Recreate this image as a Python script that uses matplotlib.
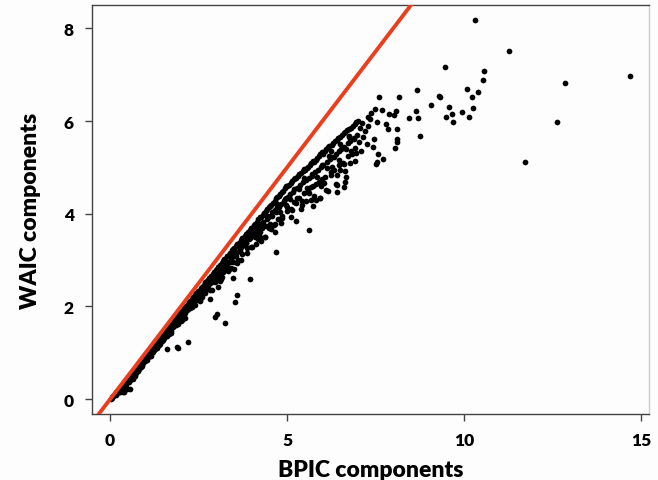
import matplotlib
matplotlib.use("Agg")
import matplotlib.pyplot as plt

# ---- data ----
band_pts = [
    (0.02,0.01),(0.05,0.04),(0.08,0.06),(0.10,0.09),(0.12,0.08),(0.14,0.12),(0.16,0.10),(0.18,0.16),(0.20,0.13),(0.22,0.20),(0.24,0.15),(0.06,0.02),
    (0.27,0.25),(0.29,0.18),(0.31,0.28),(0.33,0.22),(0.35,0.32),(0.37,0.15),(0.39,0.34),(0.41,0.27),(0.43,0.38),(0.45,0.30),(0.47,0.43),(0.49,0.36),
    (0.51,0.47),(0.53,0.38),(0.55,0.50),(0.57,0.42),(0.59,0.55),(0.61,0.46),(0.63,0.58),(0.65,0.52),(0.67,0.62),(0.69,0.50),(0.71,0.66),(0.73,0.57),
    (0.76,0.70),(0.78,0.60),(0.80,0.75),(0.82,0.66),(0.84,0.79),(0.86,0.70),(0.88,0.83),(0.90,0.72),(0.92,0.86),(0.94,0.78),(0.96,0.90),(0.98,0.82),
    (1.01,0.94),(1.03,0.84),(1.05,0.98),(1.07,0.90),(1.10,1.03),(1.12,0.93),(1.14,1.07),(1.16,0.98),(1.19,1.11),(1.21,1.02),(1.23,1.15),(1.24,1.06),
    (1.26,1.19),(1.28,1.08),(1.30,1.22),(1.33,1.12),(1.35,1.27),(1.37,1.17),(1.40,1.31),(1.42,1.20),(1.44,1.36),(1.46,1.25),(1.48,1.40),(1.49,1.30),
    (1.51,1.42),(1.53,1.32),(1.56,1.47),(1.58,1.36),(1.60,1.51),(1.62,1.42),(1.65,1.55),(1.67,1.45),(1.69,1.59),(1.71,1.48),(1.73,1.63),(1.74,1.55),
    (1.76,1.65),(1.78,1.55),(1.80,1.70),(1.83,1.60),(1.85,1.74),(1.87,1.64),(1.90,1.78),(1.92,1.67),(1.94,1.83),(1.96,1.72),(1.98,1.87),(1.99,1.78),
    (2.01,1.88),(2.03,1.76),(2.05,1.93),(2.08,1.83),(2.10,1.97),(2.12,1.86),(2.15,2.02),(2.17,1.92),(2.19,2.06),(2.21,1.95),(2.23,2.10),(2.24,2.01),
    (2.26,2.11),(2.28,1.98),(2.30,2.16),(2.33,2.05),(2.35,2.20),(2.37,2.09),(2.40,2.25),(2.42,2.13),(2.44,2.29),(2.46,2.19),(2.48,2.33),(2.49,2.24),
    (2.51,2.34),(2.53,2.22),(2.56,2.39),(2.58,2.27),(2.60,2.43),(2.62,2.30),(2.65,2.47),(2.67,2.36),(2.69,2.52),(2.71,2.40),(2.73,2.56),(2.74,2.46),
    (2.76,2.57),(2.78,2.44),(2.80,2.61),(2.83,2.50),(2.85,2.66),(2.87,2.53),(2.90,2.70),(2.92,2.58),(2.94,2.75),(2.96,2.62),(2.98,2.79),(2.99,2.68),
    (3.01,2.80),(3.03,2.66),(3.06,2.85),(3.08,2.72),(3.10,2.89),(3.12,2.60),(3.15,2.93),(3.17,2.79),(3.19,2.98),(3.21,2.84),(3.23,3.02),(3.24,2.90),
    (3.26,3.03),(3.28,2.88),(3.31,3.08),(3.33,2.95),(3.35,3.12),(3.37,2.80),(3.40,3.16),(3.42,3.02),(3.44,3.21),(3.46,3.08),(3.48,3.25),(3.49,3.12),
    (3.51,3.26),(3.53,3.10),(3.56,3.30),(3.58,3.17),(3.60,3.34),(3.62,3.00),(3.65,3.38),(3.67,3.24),(3.69,3.43),(3.71,3.29),(3.73,3.47),(3.74,3.35),
    (3.76,3.48),(3.78,3.32),(3.81,3.52),(3.83,3.38),(3.85,3.56),(3.87,3.15),(3.90,3.60),(3.92,3.45),(3.94,3.65),(3.96,3.50),(3.98,3.69),(3.99,3.56),
    (4.01,3.70),(4.03,3.54),(4.06,3.75),(4.08,3.60),(4.10,3.79),(4.12,3.35),(4.15,3.83),(4.17,3.66),(4.19,3.88),(4.21,3.72),(4.23,3.92),(4.24,3.78),
    (4.26,3.93),(4.28,3.76),(4.31,3.98),(4.33,3.82),(4.35,4.02),(4.37,3.50),(4.40,4.06),(4.42,3.88),(4.44,4.11),(4.46,3.94),(4.48,4.15),(4.49,3.70),
    (4.51,4.16),(4.53,3.96),(4.56,4.20),(4.58,4.03),(4.60,4.24),(4.62,3.75),(4.65,4.28),(4.67,4.08),(4.69,4.33),(4.71,4.14),(4.73,4.37),(4.74,3.88),
    (4.76,4.38),(4.78,4.15),(4.81,4.42),(4.83,4.22),(4.85,4.46),(4.87,3.90),(4.90,4.50),(4.92,4.28),(4.94,4.55),(4.96,4.33),(4.98,4.59),(4.99,4.05),
    (5.01,4.60),(5.03,4.36),(5.06,4.63),(5.08,4.42),(5.10,4.66),(5.12,4.10),(5.15,4.70),(5.17,4.48),(5.19,4.74),(5.21,4.25),(5.23,4.77),(5.24,3.85),
    (5.26,4.78),(5.28,4.55),(5.31,4.81),(5.33,4.35),(5.35,4.85),(5.37,4.62),(5.40,4.88),(5.42,4.20),(5.44,4.92),(5.46,4.68),(5.48,4.96),(5.49,4.45),
    (5.51,4.95),(5.53,4.72),(5.56,4.99),(5.58,4.50),(5.60,5.02),(5.62,4.78),(5.65,5.06),(5.67,4.30),(5.69,5.10),(5.71,4.85),(5.73,5.13),(5.74,4.60),
    (5.76,5.12),(5.78,4.90),(5.81,5.17),(5.83,4.65),(5.85,5.21),(5.87,4.95),(5.90,5.25),(5.92,4.35),(5.94,5.29),(5.96,5.00),(5.98,5.33),(5.99,4.75),
    (6.01,5.30),(6.03,5.05),(6.06,5.36),(6.08,4.80),(6.10,5.40),(6.12,5.12),(6.15,5.44),(6.17,4.50),(6.19,5.47),(6.21,5.18),(6.23,4.90),(6.24,5.35),
    (6.26,5.48),(6.28,5.22),(6.31,5.52),(6.33,4.95),(6.35,5.56),(6.37,5.28),(6.40,5.60),(6.42,4.62),(6.44,5.64),(6.46,5.35),(6.48,5.05),(6.49,5.50),
    (6.51,5.66),(6.53,5.40),(6.56,5.70),(6.58,5.10),(6.60,5.74),(6.62,5.45),(6.65,5.77),(6.67,4.80),(6.69,5.80),(6.71,5.52),(6.73,5.25),(6.74,5.65),
    (6.76,5.83),(6.78,5.58),(6.81,5.86),(6.83,5.30),(6.86,5.90),(6.88,5.62),(6.91,5.94),(6.93,5.42),(6.96,5.97),(6.98,5.70),(7.00,6.00),(7.02,5.55),
    (7.05,5.85),(7.08,5.35),(7.12,5.95),(7.15,5.65),(7.20,5.78),(7.25,5.50),(7.30,5.90),(7.35,6.05),
]

mid_band_pts = [
    (1.02,0.84),(1.08,0.96),(1.15,0.93),(1.22,1.07),(1.29,1.20),(1.36,1.17),(1.43,1.28),(1.50,1.27),
    (1.57,1.43),(1.64,1.44),(1.71,1.42),(1.78,1.58),(1.85,1.59),(1.92,1.76),(1.99,1.68),(2.06,1.82),
    (2.13,1.75),(2.20,1.98),(2.27,1.96),(2.34,2.15),(2.41,2.03),(2.48,2.19),(2.55,2.11),(2.62,2.33),
    (2.69,2.30),(2.76,2.51),(2.83,2.36),(2.90,2.54),(2.97,2.52),(3.04,2.73),(3.11,2.54),(3.18,2.75),
    (3.25,2.98),(3.32,2.76),(3.39,2.97),(3.46,2.95),(3.53,3.18),(3.60,2.94),(3.67,3.19),(3.74,3.13),
    (3.81,3.44),(3.88,3.26),(3.95,3.47),(4.02,3.28),(4.09,3.49),(4.16,3.68),(4.23,3.51),(4.30,3.70),
    (4.37,3.51),(4.44,3.95),(4.51,3.79),(4.58,3.95),(4.65,3.77),(4.72,4.21),(4.79,4.03),(4.86,3.96),
    (4.93,4.31),(5.00,4.14),(5.07,4.31),(5.14,4.08),(5.21,4.54),(5.28,4.34),(5.35,4.53),(5.42,4.27),
    (5.49,4.77),(5.56,4.56),(5.63,4.45),(5.70,4.81),(5.77,4.38),(5.84,4.79),(5.91,4.69),(5.98,5.06),
    (6.05,4.67),(6.12,4.98),(6.19,5.24),(6.26,5.00),(6.33,5.23),(6.40,4.83),(6.47,5.16),(6.54,5.43),
    (6.61,5.08),(6.68,5.40),(6.75,5.68),(6.82,5.35),(6.89,5.63),(6.96,5.32),
    (1.05,0.90),(1.19,1.09),(1.33,1.11),(1.47,1.31),(1.61,1.37),(1.75,1.60),(1.89,1.64),(2.03,1.70),
    (2.17,1.94),(2.31,1.98),(2.45,2.22),(2.59,2.20),(2.73,2.41),(2.87,2.36),(3.01,2.62),(3.15,2.63),
    (3.29,2.91),(3.43,2.82),(3.57,3.10),(3.71,3.00),(3.85,3.36),(3.99,3.28),(4.13,3.55),(4.27,3.41),
    (4.41,3.74),(4.55,3.67),(4.69,4.04),(4.83,3.81),(4.97,4.20),(5.11,3.94),(5.25,4.23),(5.39,4.11),
    (5.53,4.28),(5.67,4.58),(5.81,4.30),(5.95,4.60),(6.09,4.52),(6.23,4.83),(6.37,4.64),(6.51,4.95),
    (6.65,4.93),(6.79,5.09),(6.93,5.13),
]

outlier_pts = [
    (10.30,8.19),(11.27,7.51),(9.47,7.16),(10.57,7.08),(10.55,6.89),(12.86,6.83),(14.68,6.97),
    (10.10,6.70),(10.40,6.62),(10.22,6.51),(9.32,6.53),(9.59,6.31),(10.25,6.28),(9.94,6.20),
    (9.66,6.16),(9.50,6.08),(10.14,6.08),(9.70,5.98),(12.64,5.99),(11.73,5.11),
    (7.60,6.52),(8.17,6.51),(8.67,6.67),(9.29,6.54),(9.08,6.34),(8.64,6.22),(8.45,6.07),(8.70,6.06),
    (8.77,5.68),(7.48,6.27),(7.68,6.24),(7.38,6.18),(7.28,6.08),(7.55,5.97),(7.89,6.16),(8.01,6.13),
    (8.08,6.22),(7.80,5.93),(7.84,5.84),(8.10,5.83),(8.10,5.61),(8.12,5.55),(8.05,5.43),(7.44,5.45),
    (7.58,5.29),(7.70,5.18),(7.51,5.07),(7.47,5.61),
    (1.60,1.08),(1.88,1.12),(2.21,1.23),(1.93,1.10),(1.65,1.41),(1.93,1.62),(2.97,1.77),(3.01,1.84),
    (3.25,1.64),(3.53,2.09),(3.60,2.25),(3.95,2.59),(3.48,2.61),(3.50,2.81),(2.82,2.16),(2.54,2.15),
    (3.06,2.41),(4.69,3.17),(4.66,3.60),(4.24,3.60),(4.19,3.45),(5.62,3.65),(6.40,4.47),(6.61,4.57),
    (6.64,4.68),(7.53,5.11),(5.73,4.17),(5.93,4.35),(0.38,0.15),(0.47,0.22),(0.28,0.15),(0.56,0.22),(0.66,0.44),
]

all_pts = band_pts + mid_band_pts + outlier_pts
bpic = [p[0] for p in all_pts]
waic = [p[1] for p in all_pts]

x_ticks = [0, 5, 10, 15]
y_ticks = [0, 2, 4, 6, 8]
identity = [-1, 16]

plt.rcParams['font.family'] = ['Lato', 'DejaVu Sans']

fig = plt.figure(figsize=(6.58, 4.81), dpi=100)
fig.patch.set_facecolor('#fdfdfe')
ax = fig.add_axes([0.1394, 0.1372, 0.9863 - 0.1394, 0.988 - 0.1372])
ax.set_facecolor('#fdfdfe')

ax.scatter(bpic, waic, s=17, color='black', linewidths=0, zorder=3)
ax.plot(identity, identity, color='#ea3f1f', lw=2.8, zorder=4)

ax.set_xlim(-0.52, 15.23)
ax.set_ylim(-0.32, 8.51)
ax.set_xticks(x_ticks)
ax.set_yticks(y_ticks)
ax.tick_params(direction='out', length=5, width=1, color='#444444',
               labelsize=12.5, pad=8)
for lab in ax.get_xticklabels() + ax.get_yticklabels():
    lab.set_fontweight('heavy')

for s in ['left', 'bottom', 'top']:
    ax.spines[s].set_color('#444444')
    ax.spines[s].set_linewidth(1.0)
ax.spines['right'].set_color('#d8c8c4')
ax.spines['right'].set_linewidth(1.0)

ax.set_xlabel('BPIC components', fontsize=16.5, fontweight='heavy', labelpad=8)
ax.set_ylabel('WAIC components', fontsize=16.5, fontweight='heavy', labelpad=16)

fig.savefig('out.png', dpi=100, facecolor=fig.get_facecolor())
